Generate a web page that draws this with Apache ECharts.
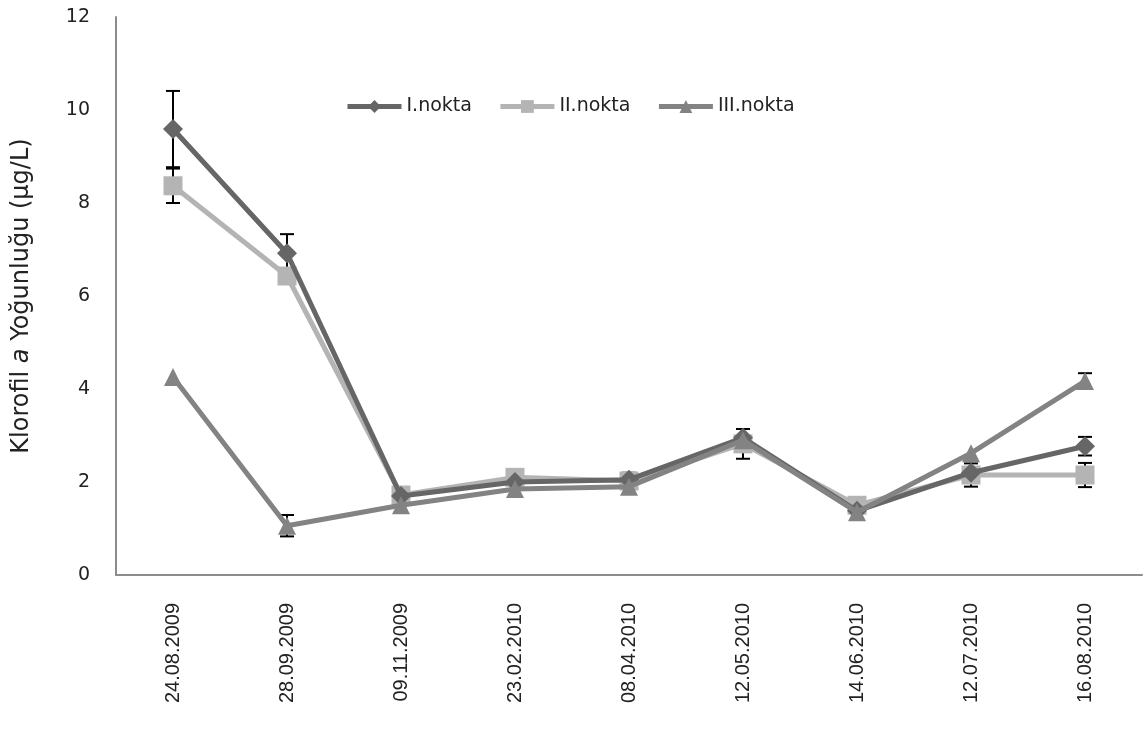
<!DOCTYPE html>
<html>
<head>
<meta charset="utf-8">
<script src="https://cdn.jsdelivr.net/npm/echarts@6/dist/echarts.min.js"></script>
<style>
html,body{margin:0;padding:0;background:#fff;}
#chart_1{width:1144px;height:733px;}
</style>
</head>
<body>
<div id="chart_1"></div>
<script>
// tarihler
var dates = ['24.08.2009','28.09.2009','09.11.2009','23.02.2010','08.04.2010','12.05.2010','14.06.2010','12.07.2010','16.08.2010']
var yTicks = [0, 2, 4, 6, 8, 10, 12]
// ortalama degerler
var nokta1 = [9.59, 6.92, 1.70, 2.00, 2.05, 2.95, 1.38, 2.20, 2.77]
var nokta2 = [8.37, 6.43, 1.72, 2.10, 2.02, 2.82, 1.50, 2.15, 2.15]
var nokta3 = [4.26, 1.06, 1.50, 1.85, 1.90, 2.90, 1.35, 2.62, 4.17]
// standart sapma
var err1 = [0.82, 0.41, 0, 0, 0.15, 0, 0, 0, 0.20]
var err2 = [0.37, 0, 0, 0, 0, 0.32, 0, 0.25, 0.26]
var err3 = [0, 0.23, 0, 0, 0, 0, 0, 0, 0.17]

var names = ['I.nokta','II.nokta','III.nokta']
var colors = ['#666666','#b4b4b4','#838383']

function errData(vals, errs){
    var out = []
    for(var i = 0;i<vals.length;i++){
        if(errs[i] > 0) out.push([i, vals[i] - errs[i], vals[i] + errs[i]])
    }
    return out
}

function errSeries(vals, errs){
    return {
        type:'custom',
        z: 1,
        silent: true,
        data: errData(vals, errs),
        renderItem: function(params, api){
            var lo = api.coord([api.value(0), api.value(1)])
            var hi = api.coord([api.value(0), api.value(2)])
            var w = 7
            var st = {stroke:'#000', lineWidth:2}
            return {
                type:'group',
                children:[
                    {type:'line', shape:{x1:lo[0],y1:lo[1],x2:hi[0],y2:hi[1]}, style:st},
                    {type:'line', shape:{x1:lo[0]-w,y1:lo[1],x2:lo[0]+w,y2:lo[1]}, style:st},
                    {type:'line', shape:{x1:hi[0]-w,y1:hi[1],x2:hi[0]+w,y2:hi[1]}, style:st}
                ]
            }
        }
    }
}

var char1 = echarts.init(document.getElementById('chart_1'))
var option1 = {
    animation: false,
    textStyle: {fontFamily: 'DejaVu Sans'},
    legend: {
        data: names,
        left: 340,
        top: 92,
        itemWidth: 54,
        itemHeight: 16,
        itemGap: 26,
        lineStyle: {width: 5},
        textStyle: {fontSize: 19, color: '#222', fontFamily: 'DejaVu Sans'}
    },
    grid: {left: 116, right: 2, top: 17, bottom: 158},
    xAxis: {
        type: 'category',
        data: dates,
        boundaryGap: true,
        axisLine: {lineStyle: {color: '#8c8c8c', width: 2}},
        axisTick: {show: false},
        axisLabel: {rotate: 90, fontSize: 20, color: '#222', margin: 28, fontFamily: 'Liberation Sans'}
    },
    yAxis: {
        type: 'value',
        min: yTicks[0],
        max: yTicks[yTicks.length - 1],
        interval: 2,
        name: '{n|Klorofil }{i|a}{n| Yoğunluğu (µg/L)}',
        nameLocation: 'middle',
        nameGap: 82,
        nameRotate: 90,
        nameTextStyle: {
            rich: {
                n: {fontSize: 24, color: '#222', fontFamily: 'DejaVu Sans'},
                i: {fontSize: 24, color: '#222', fontFamily: 'DejaVu Sans', fontStyle: 'italic'}
            }
        },
        splitLine: {show: false},
        axisLine: {show: true, lineStyle: {color: '#8c8c8c', width: 2}},
        axisTick: {show: false},
        axisLabel: {fontSize: 19, color: '#222', margin: 26}
    },
    series: [
        errSeries(nokta1, err1),
        errSeries(nokta2, err2),
        errSeries(nokta3, err3),
        {
            name: names[0], type: 'line', data: nokta1, z: 3,
            symbol: 'diamond', symbolSize: 20,
            lineStyle: {color: colors[0], width: 5},
            itemStyle: {color: colors[0]}
        },
        {
            name: names[1], type: 'line', data: nokta2, z: 2,
            symbol: 'rect', symbolSize: 19,
            lineStyle: {color: colors[1], width: 5},
            itemStyle: {color: colors[1]}
        },
        {
            name: names[2], type: 'line', data: nokta3, z: 4,
            symbol: 'triangle', symbolSize: 18,
            lineStyle: {color: colors[2], width: 5},
            itemStyle: {color: colors[2]}
        }
    ]
}
char1.setOption(option1)
</script>
</body>
</html>
